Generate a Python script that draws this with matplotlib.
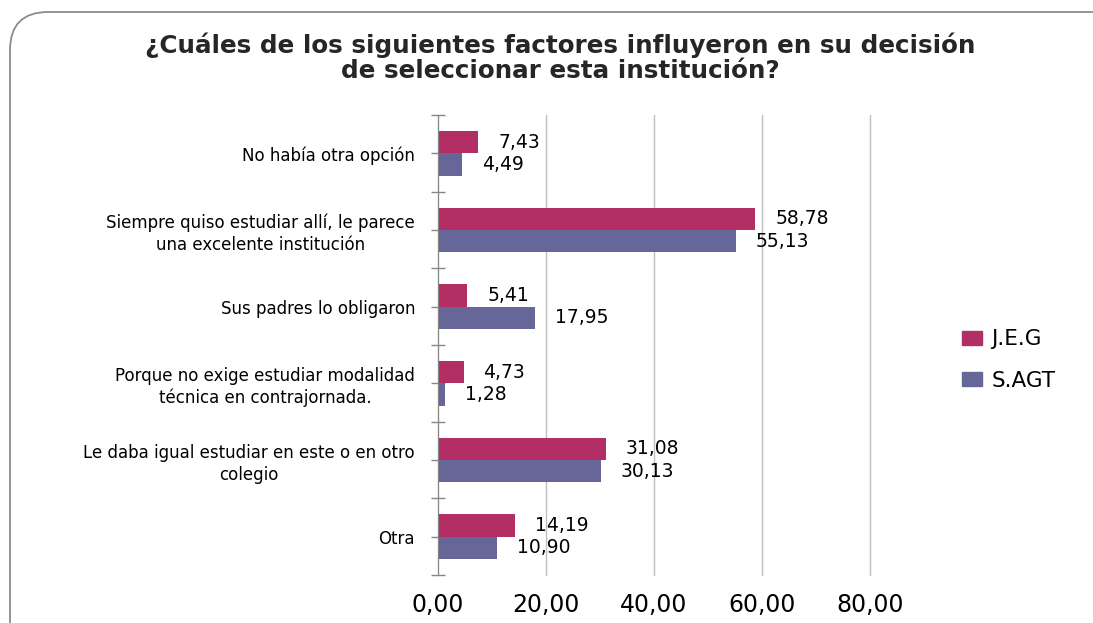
import matplotlib
matplotlib.use("Agg")
import matplotlib.pyplot as plt
from matplotlib.patches import FancyBboxPatch, Patch

# -----------------------------
# Data
# -----------------------------
categories = [
    "No había otra opción",
    "Siempre quiso estudiar allí, le parece\nuna excelente institución",
    "Sus padres lo obligaron",
    "Porque no exige estudiar modalidad\ntécnica en contrajornada.",
    "Le daba igual estudiar en este o en otro\ncolegio",
    "Otra",
]
series_names = ["J.E.G", "S.AGT"]
jeg = [7.43, 58.78, 5.41, 4.73, 31.08, 14.19]
sagt = [4.49, 55.13, 17.95, 1.28, 30.13, 10.90]
x_ticks = [0, 20, 40, 60, 80]

colors = ["#B22E64", "#666699"]

def fmt(v):
    return f"{v:.2f}".replace(".", ",")

# -----------------------------
# Figure
# -----------------------------
fig = plt.figure(figsize=(10.93, 6.23), dpi=100)

# rounded frame around the chart (runs off right/bottom edges)
frame = FancyBboxPatch((10 / 1093, -40 / 623), 1.2, (623 - 12 + 40) / 623,
                       boxstyle="round,pad=0,rounding_size=0.035",
                       transform=fig.transFigure, fill=False,
                       edgecolor="#8C8C8C", linewidth=1.3,
                       mutation_aspect=1093 / 623)
fig.patches.append(frame)

ax = fig.add_axes([438 / 1093, 1 - 575 / 623, 432 / 1093, 460 / 623])

pos = list(range(len(categories)))
h = 0.29
ax.barh([p - h / 2 for p in pos], jeg, height=h, color=colors[0], label=series_names[0])
ax.barh([p + h / 2 for p in pos], sagt, height=h, color=colors[1], label=series_names[1])

for p, a, b in zip(pos, jeg, sagt):
    ax.annotate(fmt(a), (a, p - h / 2), xytext=(20, 0), textcoords="offset pixels",
                va="center", ha="left", fontsize=13.5, family="DejaVu Sans")
    ax.annotate(fmt(b), (b, p + h / 2), xytext=(20, 0), textcoords="offset pixels",
                va="center", ha="left", fontsize=13.5, family="DejaVu Sans")

ax.set_xlim(0, 80)
ax.set_ylim(len(categories) - 0.5, -0.5)
ax.set_xticks(x_ticks)
ax.set_xticklabels([fmt(v) for v in x_ticks], fontsize=17, family="DejaVu Sans")
ax.tick_params(axis="x", length=0, pad=13)

ax.set_yticks(pos)
ax.set_yticklabels(categories, fontsize=12, family="DejaVu Sans",
                   multialignment="center", linespacing=1.25)
ax.set_yticks([p - 0.5 for p in pos] + [len(pos) - 0.5], minor=True)
ax.tick_params(axis="y", which="both", direction="inout", length=10,
               color="#868686", width=1)
ax.tick_params(axis="y", which="major", pad=11.5)

ax.xaxis.grid(True, color="#BFBFBF", linewidth=1)
for gl in ax.get_xgridlines():
    gl.set_clip_on(False)
ax.set_axisbelow(True)
for s in ["top", "right", "bottom"]:
    ax.spines[s].set_visible(False)
ax.spines["left"].set_color("#868686")

fig.text(560 / 1093, 1 - 58 / 623,
         "¿Cuáles de los siguientes factores influyeron en su decisión\nde seleccionar esta institución?",
         ha="center", va="center", fontsize=17.7, fontweight="bold",
         family="DejaVu Sans", color="#262626", linespacing=1.05)

handles = [Patch(color=c) for c in colors]
fig.legend(handles, series_names, loc="center left",
           bbox_to_anchor=(943 / 1093, 1 - 360 / 623), frameon=False,
           handlelength=0.9, handleheight=0.62,
           labelspacing=1.0, handletextpad=0.45,
           prop={"family": "DejaVu Sans", "size": 15.5})

fig.savefig("out.png", dpi=100)
